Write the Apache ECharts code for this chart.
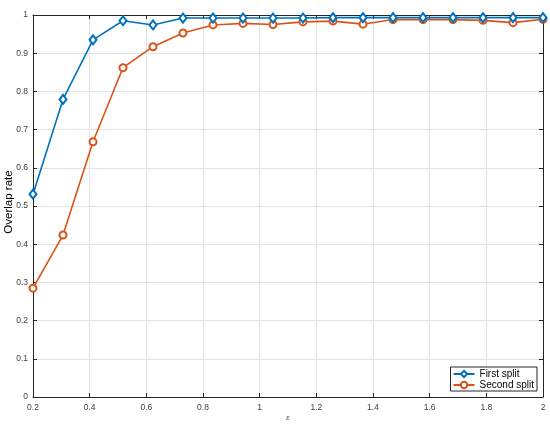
<!DOCTYPE html>
<html><head><meta charset="utf-8">
<script src="https://cdn.jsdelivr.net/npm/echarts@6/dist/echarts.min.js"></script>
<style>html,body{margin:0;padding:0;background:#fff}#c{width:550px;height:429px}</style>
</head><body><div id="c"></div>
<script>
var epsilon = [0.2, 0.3059, 0.4118, 0.5176, 0.6235, 0.7294, 0.8353, 0.9412, 1.0471, 1.1529, 1.2588, 1.3647, 1.4706, 1.5765, 1.6824, 1.7882, 1.8941, 2.0];
var firstSplit = [0.531, 0.779, 0.935, 0.985, 0.974, 0.992, 0.992, 0.992, 0.992, 0.992, 0.993, 0.993, 0.993, 0.993, 0.993, 0.993, 0.993, 0.993];
var secondSplit = [0.285, 0.424, 0.668, 0.862, 0.917, 0.953, 0.974, 0.978, 0.975, 0.982, 0.984, 0.976, 0.988, 0.988, 0.988, 0.986, 0.980, 0.989];
var seriesNames = ['First split', 'Second split'];

function pair(xs, ys){ return xs.map(function(x,i){ return [x, ys[i]]; }); }
function fmt(v){ var r = Math.round(v*10)/10; return String(r); }

var axisLineStyle = {color:'#262626', width:1};
var labelStyle = {color:'#404040', fontSize:8.5, fontFamily:'Liberation Sans, Arial, sans-serif'};
var chart = echarts.init(document.getElementById('c'), null, {renderer:'canvas'});
chart.setOption({
  animation:false,
  backgroundColor:'#fff',
  grid:{left:33, right:7, top:15, bottom:32, containLabel:false, outerBoundsMode:'none'},
  legend:{
    data:seriesNames, orient:'vertical', right:13, bottom:38,
    backgroundColor:'#fff', borderColor:'#262626', borderWidth:1, borderRadius:0,
    padding:[2,3,1,2], itemGap:1, itemWidth:21, itemHeight:8,
    textStyle:{fontSize:10, color:'#000', fontFamily:'Liberation Sans, Arial, sans-serif'}
  },
  xAxis:[{
    type:'value', min:0.2, max:2, interval:0.2,
    name:'\u03b5', nameLocation:'middle', nameGap:17, nameMoveOverlap:false,
    nameTextStyle:{fontSize:8, color:'#404040', fontStyle:'italic'},
    axisLine:{show:true, onZero:false, lineStyle:axisLineStyle},
    axisTick:{show:true, inside:true, length:4, lineStyle:axisLineStyle},
    axisLabel:{formatter:fmt, margin:6, ...labelStyle},
    splitLine:{show:true, lineStyle:{color:'#e2e2e2', width:1}}
  },{
    type:'value', position:'top', min:0.2, max:2, interval:0.2,
    axisLine:{show:true, onZero:false, lineStyle:axisLineStyle},
    axisTick:{show:true, inside:true, length:4, lineStyle:axisLineStyle},
    axisLabel:{show:false}, splitLine:{show:false}
  }],
  yAxis:[{
    type:'value', min:0, max:1, interval:0.1,
    name:'Overlap rate', nameLocation:'middle', nameGap:18, nameRotate:90, nameMoveOverlap:false,
    nameTextStyle:{fontSize:11.5, color:'#000', fontFamily:'Liberation Sans, Arial, sans-serif', padding:[0,0,0,8]},
    axisLine:{show:true, onZero:false, lineStyle:axisLineStyle},
    axisTick:{show:true, inside:true, length:4, lineStyle:axisLineStyle},
    axisLabel:{formatter:fmt, margin:5, ...labelStyle},
    splitLine:{show:true, lineStyle:{color:'#e2e2e2', width:1}}
  },{
    type:'value', position:'right', min:0, max:1, interval:0.1,
    axisLine:{show:true, onZero:false, lineStyle:axisLineStyle},
    axisTick:{show:true, inside:true, length:4, lineStyle:axisLineStyle},
    axisLabel:{show:false}, splitLine:{show:false}
  }],
  series:[{
    name:seriesNames[0], type:'line', data:pair(epsilon, firstSplit),
    symbol:'emptyDiamond', symbolSize:[7,9],
    color:'#0072BD',
    lineStyle:{width:1.6, color:'#0072BD'},
    itemStyle:{color:'#0072BD', borderColor:'#0072BD', borderWidth:1.3},
    z:3
  },{
    name:seriesNames[1], type:'line', data:pair(epsilon, secondSplit),
    symbol:'emptyCircle', symbolSize:7,
    color:'#D95319',
    lineStyle:{width:1.6, color:'#D95319'},
    itemStyle:{color:'#D95319', borderColor:'#D95319', borderWidth:1.3},
    z:2
  }]
});
</script></body></html>
